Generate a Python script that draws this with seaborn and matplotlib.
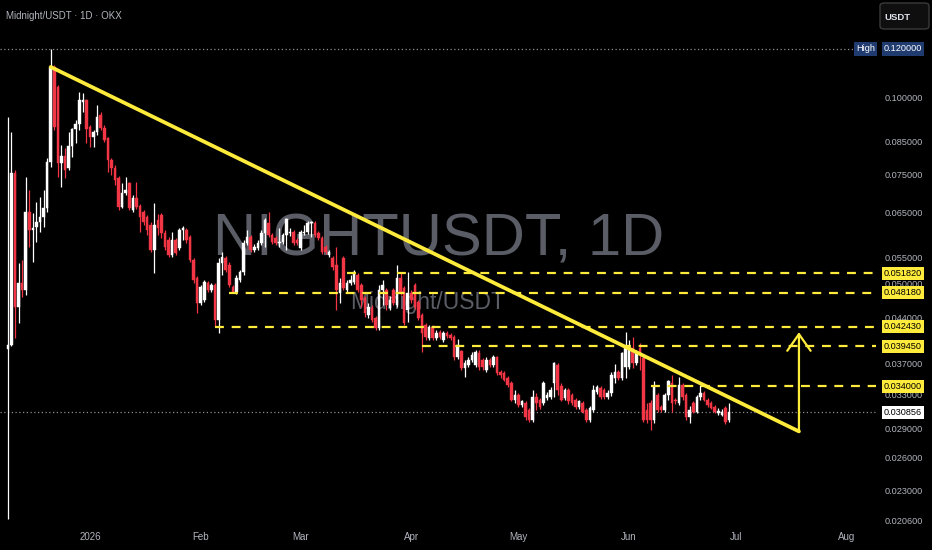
import matplotlib
matplotlib.use('Agg')
import matplotlib.pyplot as plt
from matplotlib.patches import FancyBboxPatch
from matplotlib.ticker import FixedLocator, FixedFormatter, NullLocator
import numpy as np
import pandas as pd
import seaborn as sns

# ---------------- data ----------------
start_date = '2025-12-09'

opens = [
    0.0390, 0.0397, 0.0755, 0.0457, 0.0500, 0.0487, 0.0652, 0.0610, 0.0616, 0.0628,
    0.0640, 0.0662, 0.0786, 0.1122, 0.1041, 0.0783, 0.0804, 0.0769, 0.0835, 0.0890,
    0.0906, 0.0985, 0.0992, 0.0897, 0.0863, 0.0880, 0.0938, 0.0893, 0.0860, 0.0792,
    0.0769, 0.0741, 0.0664, 0.0700, 0.0727, 0.0657, 0.0687, 0.0667, 0.0652, 0.0640,
    0.0621, 0.0566, 0.0633, 0.0645, 0.0603, 0.0587, 0.0555, 0.0587, 0.0570, 0.0610,
    0.0610, 0.0594, 0.0545, 0.0509, 0.0464, 0.0469, 0.0500, 0.0487, 0.0496, 0.0435,
    0.0539, 0.0549, 0.0535, 0.0493, 0.0484, 0.0506, 0.0521, 0.0581, 0.0594, 0.0566,
    0.0570, 0.0581, 0.0603, 0.0626, 0.0598, 0.0592, 0.0581, 0.0583, 0.0598, 0.0603,
    0.0605, 0.0587, 0.0570, 0.0603, 0.0605, 0.0626, 0.0626, 0.0603, 0.0592, 0.0572,
    0.0555, 0.0549, 0.0535, 0.0482, 0.0549, 0.0487, 0.0500, 0.0502, 0.0515, 0.0496,
    0.0473, 0.0444, 0.0455, 0.0439, 0.0423, 0.0487, 0.0487, 0.0455, 0.0487, 0.0461,
    0.0509, 0.0491, 0.0452, 0.0482, 0.0496, 0.0466, 0.0444, 0.0427, 0.0407, 0.0424,
    0.0407, 0.0416, 0.0404, 0.0415, 0.0412, 0.0409, 0.0379, 0.0387, 0.0364, 0.0368,
    0.0375, 0.0368, 0.0385, 0.0375, 0.0361, 0.0375, 0.0368, 0.0379, 0.0359, 0.0357,
    0.0351, 0.0344, 0.0323, 0.0329, 0.0317, 0.0319, 0.0311, 0.0300, 0.0326, 0.0323,
    0.0319, 0.0325, 0.0326, 0.0344, 0.0368, 0.0340, 0.0325, 0.0335, 0.0329, 0.0323,
    0.0315, 0.0319, 0.0311, 0.0300, 0.0311, 0.0333, 0.0338, 0.0335, 0.0326, 0.0331,
    0.0351, 0.0358, 0.0351, 0.0365, 0.0365, 0.0392, 0.0371, 0.0392, 0.0378, 0.0311,
    0.0319, 0.0300, 0.0329, 0.0315, 0.0311, 0.0329, 0.0344, 0.0323, 0.0319, 0.0341,
    0.0329, 0.0303, 0.0319, 0.0309, 0.0326, 0.0331, 0.0323, 0.0319, 0.0315, 0.0308,
    0.0305, 0.0313, 0.0300,
]
highs = [
    0.0930, 0.0880, 0.0763, 0.0539, 0.0545, 0.0744, 0.0708, 0.0650, 0.0677, 0.0690,
    0.0708, 0.0798, 0.1200, 0.1131, 0.1050, 0.0838, 0.0828, 0.0880, 0.0893, 0.0920,
    0.1022, 0.1019, 0.0995, 0.0903, 0.0887, 0.0973, 0.0948, 0.0903, 0.0863, 0.0798,
    0.0777, 0.0746, 0.0727, 0.0744, 0.0730, 0.0695, 0.0730, 0.0672, 0.0657, 0.0645,
    0.0628, 0.0675, 0.0647, 0.0650, 0.0610, 0.0594, 0.0605, 0.0592, 0.0614, 0.0619,
    0.0614, 0.0598, 0.0549, 0.0513, 0.0496, 0.0506, 0.0504, 0.0500, 0.0500, 0.0549,
    0.0562, 0.0553, 0.0541, 0.0496, 0.0515, 0.0525, 0.0587, 0.0610, 0.0598, 0.0579,
    0.0587, 0.0610, 0.0638, 0.0652, 0.0603, 0.0596, 0.0614, 0.0603, 0.0638, 0.0614,
    0.0610, 0.0592, 0.0610, 0.0621, 0.0631, 0.0631, 0.0631, 0.0607, 0.0596, 0.0577,
    0.0566, 0.0553, 0.0572, 0.0509, 0.0553, 0.0506, 0.0515, 0.0525, 0.0519, 0.0500,
    0.0477, 0.0464, 0.0461, 0.0442, 0.0496, 0.0506, 0.0491, 0.0477, 0.0491, 0.0535,
    0.0521, 0.0495, 0.0521, 0.0487, 0.0500, 0.0469, 0.0447, 0.0431, 0.0427, 0.0427,
    0.0420, 0.0420, 0.0418, 0.0418, 0.0415, 0.0412, 0.0406, 0.0389, 0.0375, 0.0379,
    0.0386, 0.0389, 0.0389, 0.0378, 0.0379, 0.0378, 0.0382, 0.0381, 0.0361, 0.0360,
    0.0353, 0.0347, 0.0335, 0.0331, 0.0323, 0.0322, 0.0313, 0.0335, 0.0331, 0.0325,
    0.0347, 0.0333, 0.0339, 0.0372, 0.0371, 0.0344, 0.0338, 0.0338, 0.0331, 0.0325,
    0.0323, 0.0322, 0.0313, 0.0316, 0.0341, 0.0341, 0.0340, 0.0338, 0.0335, 0.0358,
    0.0369, 0.0361, 0.0386, 0.0416, 0.0404, 0.0409, 0.0389, 0.0400, 0.0381, 0.0319,
    0.0323, 0.0346, 0.0331, 0.0317, 0.0331, 0.0348, 0.0354, 0.0325, 0.0352, 0.0344,
    0.0331, 0.0316, 0.0322, 0.0329, 0.0341, 0.0334, 0.0325, 0.0322, 0.0317, 0.0313,
    0.0312, 0.0316, 0.0319,
]
lows = [
    0.0207, 0.0395, 0.0407, 0.0431, 0.0475, 0.0478, 0.0572, 0.0541, 0.0583, 0.0605,
    0.0616, 0.0652, 0.0772, 0.0887, 0.0744, 0.0716, 0.0741, 0.0763, 0.0801, 0.0845,
    0.0887, 0.0948, 0.0845, 0.0832, 0.0832, 0.0870, 0.0887, 0.0848, 0.0758, 0.0750,
    0.0722, 0.0657, 0.0662, 0.0695, 0.0657, 0.0652, 0.0659, 0.0605, 0.0621, 0.0598,
    0.0562, 0.0519, 0.0598, 0.0592, 0.0566, 0.0551, 0.0551, 0.0555, 0.0566, 0.0587,
    0.0581, 0.0541, 0.0500, 0.0447, 0.0461, 0.0466, 0.0484, 0.0484, 0.0424, 0.0415,
    0.0515, 0.0521, 0.0493, 0.0482, 0.0480, 0.0502, 0.0515, 0.0577, 0.0562, 0.0562,
    0.0566, 0.0577, 0.0572, 0.0594, 0.0579, 0.0577, 0.0572, 0.0579, 0.0566, 0.0596,
    0.0577, 0.0577, 0.0566, 0.0598, 0.0601, 0.0594, 0.0594, 0.0587, 0.0558, 0.0558,
    0.0551, 0.0525, 0.0452, 0.0464, 0.0487, 0.0484, 0.0496, 0.0498, 0.0484, 0.0457,
    0.0440, 0.0439, 0.0432, 0.0420, 0.0420, 0.0461, 0.0452, 0.0452, 0.0461, 0.0457,
    0.0478, 0.0427, 0.0432, 0.0464, 0.0454, 0.0435, 0.0386, 0.0404, 0.0404, 0.0404,
    0.0404, 0.0406, 0.0401, 0.0407, 0.0404, 0.0375, 0.0376, 0.0361, 0.0352, 0.0365,
    0.0372, 0.0365, 0.0361, 0.0361, 0.0358, 0.0365, 0.0365, 0.0354, 0.0351, 0.0346,
    0.0339, 0.0321, 0.0319, 0.0315, 0.0315, 0.0300, 0.0297, 0.0297, 0.0311, 0.0312,
    0.0317, 0.0323, 0.0324, 0.0326, 0.0329, 0.0321, 0.0323, 0.0318, 0.0317, 0.0312,
    0.0312, 0.0307, 0.0297, 0.0297, 0.0309, 0.0330, 0.0324, 0.0324, 0.0324, 0.0328,
    0.0344, 0.0348, 0.0348, 0.0351, 0.0362, 0.0364, 0.0368, 0.0361, 0.0297, 0.0296,
    0.0288, 0.0296, 0.0309, 0.0309, 0.0309, 0.0323, 0.0309, 0.0318, 0.0317, 0.0323,
    0.0300, 0.0296, 0.0307, 0.0307, 0.0323, 0.0321, 0.0315, 0.0312, 0.0307, 0.0305,
    0.0304, 0.0295, 0.0297,
]
closes = [
    0.0397, 0.0755, 0.0457, 0.0500, 0.0487, 0.0652, 0.0610, 0.0614, 0.0628, 0.0640,
    0.0662, 0.0786, 0.1122, 0.0897, 0.0783, 0.0804, 0.0763, 0.0835, 0.0890, 0.0906,
    0.0992, 0.0992, 0.0890, 0.0863, 0.0880, 0.0930, 0.0893, 0.0854, 0.0792, 0.0769,
    0.0735, 0.0664, 0.0700, 0.0708, 0.0662, 0.0687, 0.0664, 0.0640, 0.0628, 0.0610,
    0.0566, 0.0621, 0.0614, 0.0603, 0.0572, 0.0555, 0.0587, 0.0560, 0.0610, 0.0614,
    0.0587, 0.0545, 0.0506, 0.0464, 0.0493, 0.0502, 0.0487, 0.0496, 0.0435, 0.0539,
    0.0551, 0.0525, 0.0496, 0.0484, 0.0509, 0.0521, 0.0581, 0.0594, 0.0566, 0.0572,
    0.0581, 0.0603, 0.0633, 0.0598, 0.0583, 0.0581, 0.0583, 0.0598, 0.0636, 0.0605,
    0.0581, 0.0581, 0.0605, 0.0605, 0.0626, 0.0628, 0.0598, 0.0592, 0.0562, 0.0562,
    0.0562, 0.0531, 0.0487, 0.0500, 0.0491, 0.0500, 0.0506, 0.0521, 0.0487, 0.0469,
    0.0447, 0.0457, 0.0435, 0.0423, 0.0487, 0.0496, 0.0461, 0.0469, 0.0464, 0.0509,
    0.0484, 0.0431, 0.0482, 0.0469, 0.0457, 0.0439, 0.0415, 0.0409, 0.0424, 0.0407,
    0.0415, 0.0409, 0.0415, 0.0410, 0.0407, 0.0379, 0.0397, 0.0364, 0.0371, 0.0375,
    0.0382, 0.0386, 0.0365, 0.0365, 0.0375, 0.0368, 0.0379, 0.0357, 0.0354, 0.0348,
    0.0341, 0.0323, 0.0329, 0.0317, 0.0321, 0.0303, 0.0300, 0.0326, 0.0319, 0.0315,
    0.0344, 0.0329, 0.0335, 0.0371, 0.0335, 0.0323, 0.0335, 0.0321, 0.0319, 0.0315,
    0.0321, 0.0309, 0.0300, 0.0313, 0.0335, 0.0339, 0.0326, 0.0326, 0.0331, 0.0354,
    0.0358, 0.0351, 0.0385, 0.0394, 0.0394, 0.0371, 0.0385, 0.0382, 0.0300, 0.0300,
    0.0300, 0.0339, 0.0311, 0.0311, 0.0329, 0.0346, 0.0319, 0.0321, 0.0341, 0.0326,
    0.0303, 0.0311, 0.0309, 0.0326, 0.0331, 0.0323, 0.0317, 0.0313, 0.0309, 0.0310,
    0.0309, 0.0297, 0.030856,
]

trend_dates = ['2025-12-21 00:00', '2026-07-18 14:00']
trend_prices = [0.1122, 0.0287]
target_price = 0.0416

level_prices = [0.05182, 0.04818, 0.04243, 0.03945, 0.034]
level_starts = ['2026-03-14', '2026-02-09', '2026-02-05', '2026-04-04', '2026-06-07']
level_labels = ['0.051820', '0.048180', '0.042430', '0.039450', '0.034000']

axis_ticks = [0.1, 0.085, 0.075, 0.065, 0.055, 0.05, 0.044, 0.037, 0.033,
              0.029, 0.026, 0.023, 0.0206]
axis_tick_labels = ['0.100000', '0.085000', '0.075000', '0.065000', '0.055000',
                    '0.050000', '0.044000', '0.037000', '0.033000', '0.029000',
                    '0.026000', '0.023000', '0.020600']

month_ticks = ['2026-01-01', '2026-02-01', '2026-03-01', '2026-04-01',
               '2026-05-01', '2026-06-01', '2026-07-01', '2026-08-01']
month_labels = ['2026', 'Feb', 'Mar', 'Apr', 'May', 'Jun', 'Jul', 'Aug']

high_price = 0.12
high_label = '0.120000'
last_price = 0.030856
last_label = '0.030856'

title_text = 'Midnight/USDT · 1D · OKX'
watermark_big = 'NIGHTUSDT, 1D'
watermark_small = 'Midnight/USDT'

# ---------------- styling ----------------
UP = '#ffffff'
DOWN = '#f23645'
YELLOW = '#ffeb3b'
TXT = '#b2b5be'
WM = '#5a5d65'
FS = 6.6

sns.set_theme(style='dark', rc={'axes.facecolor': 'black', 'figure.facecolor': 'black',
                                'axes.grid': False, 'savefig.facecolor': 'black'})
plt.rcParams['font.family'] = ['Liberation Sans', 'DejaVu Sans']

W, H = 932, 550
fig = plt.figure(figsize=(W / 100, H / 100), dpi=100)
AX_R, AX_B = 876, 527
ax = fig.add_axes([0, (H - AX_B) / H, AX_R / W, AX_B / H])
ax.set_facecolor('black')
for s in ax.spines.values():
    s.set_visible(False)

df = pd.DataFrame({'date': pd.date_range(start_date, periods=len(closes), freq='D'),
                   'open': opens, 'high': highs, 'low': lows, 'close': closes})
df['up'] = df['close'] >= df['open']
df['color'] = np.where(df['up'], UP, DOWN)
df['bottom'] = df[['open', 'close']].min(axis=1)
df['height'] = (df['close'] - df['open']).abs()

ax.set_yscale('log')

# watermark (behind everything)
ax.text(439 / W, 1 - 240 / H, watermark_big, transform=fig.transFigure, ha='center',
        va='center', fontsize=43, color=WM, zorder=0.5)
ax.text(428 / W, 1 - 302 / H, watermark_small, transform=fig.transFigure, ha='center',
        va='center', fontsize=16.5, color=WM, zorder=0.5)

# candles
ax.vlines(df['date'], df['low'], df['high'], colors=df['color'], lw=0.9, zorder=3)
ax.bar(df['date'], df['height'], bottom=df['bottom'], width=0.72, color=df['color'],
       edgecolor=df['color'], linewidth=0.3, zorder=3.1)

x0 = pd.Timestamp(start_date) - pd.Timedelta(days=7.9 / 3.57)
x1 = pd.Timestamp(start_date) + pd.Timedelta(days=(AX_R - 7.9) / 3.57)

# dotted reference lines
ax.plot([x0, x1], [last_price, last_price], color='#8c8f96', lw=0.9,
        ls=(0, (1, 2)), zorder=2)
ax.plot([x0, pd.Timestamp(start_date) + pd.Timedelta(days=(854 - 7.9) / 3.57)],
        [high_price, high_price], color='#8c8f96', lw=0.9, ls=(0, (1, 2)), zorder=2)

# horizontal levels
for p, s in zip(level_prices, level_starts):
    ax.plot([pd.Timestamp(s), x1], [p, p], color=YELLOW, lw=1.6,
            ls=(0, (4, 3.5)), zorder=4)

# trend line with seaborn
tdf = pd.DataFrame({'date': pd.to_datetime(trend_dates, format='%Y-%m-%d %H:%M'),
                    'price': trend_prices})
sns.lineplot(data=tdf, x='date', y='price', ax=ax, color=YELLOW, lw=2.7, zorder=5,
             solid_capstyle='round')

# target arrow
ax.annotate('', xy=(tdf['date'].iloc[1], target_price),
            xytext=(tdf['date'].iloc[1], trend_prices[1]),
            arrowprops=dict(arrowstyle='->,head_length=1.0,head_width=0.7',
                            color=YELLOW, lw=1.6, shrinkA=0, shrinkB=0), zorder=5)

ax.set_xlim(x0, x1)
ylo = 0.12 * np.exp(-(AX_B - 49) / 267.3)
yhi = 0.12 * np.exp(49 / 267.3)
ax.set_ylim(ylo, yhi)
ax.set_xlabel('')
ax.set_ylabel('')

# axes ticks
ax.set_xticks(pd.to_datetime(month_ticks))
ax.set_xticklabels(month_labels)
ax.tick_params(axis='x', length=0, pad=3.5, labelsize=7, labelcolor=TXT)
ax.yaxis.tick_right()
ax.yaxis.set_major_locator(FixedLocator(axis_ticks))
ax.yaxis.set_major_formatter(FixedFormatter(axis_tick_labels))
ax.yaxis.set_minor_locator(NullLocator())
ax.tick_params(axis='y', length=0, pad=6, labelsize=FS, labelcolor=TXT)

ytr = ax.get_yaxis_transform()
lab_x = 884 / AX_R
box = dict(boxstyle='square,pad=0.22', ec='none')
for p, lab in zip(level_prices, level_labels):
    ax.text(lab_x, p, lab, transform=ytr, ha='left', va='center', fontsize=FS,
            color='black', clip_on=False, zorder=10, bbox=dict(box, fc=YELLOW))
ax.text(lab_x, last_price, last_label, transform=ytr, ha='left', va='center',
        fontsize=FS, color='black', clip_on=False, zorder=10, bbox=dict(box, fc='white'))
ax.text(lab_x, high_price, high_label, transform=ytr, ha='left', va='center',
        fontsize=FS, color='white', clip_on=False, zorder=10, bbox=dict(box, fc='#1f3b6f'))
ax.text(875 / AX_R, high_price, 'High', transform=ytr, ha='right', va='center',
        fontsize=FS, color='white', clip_on=False, zorder=10, bbox=dict(box, fc='#1f3b6f'))

# title and currency button
fig.text(6 / W, 1 - 16 / H, title_text, ha='left', va='center', fontsize=7, color=TXT)
btn = FancyBboxPatch((880 / W, 1 - 29 / H), 49 / W, 26 / H,
                     boxstyle='round,pad=0,rounding_size=0.005', transform=fig.transFigure,
                     fc='#0f0f0f', ec='#3a3a3a', lw=1)
fig.patches.append(btn)
fig.text(897 / W, 1 - 17 / H, 'USDT', ha='center', va='center', fontsize=6.8,
         color='#e0e3eb', fontweight='bold')

fig.savefig('out.png', dpi=100, facecolor='black')
